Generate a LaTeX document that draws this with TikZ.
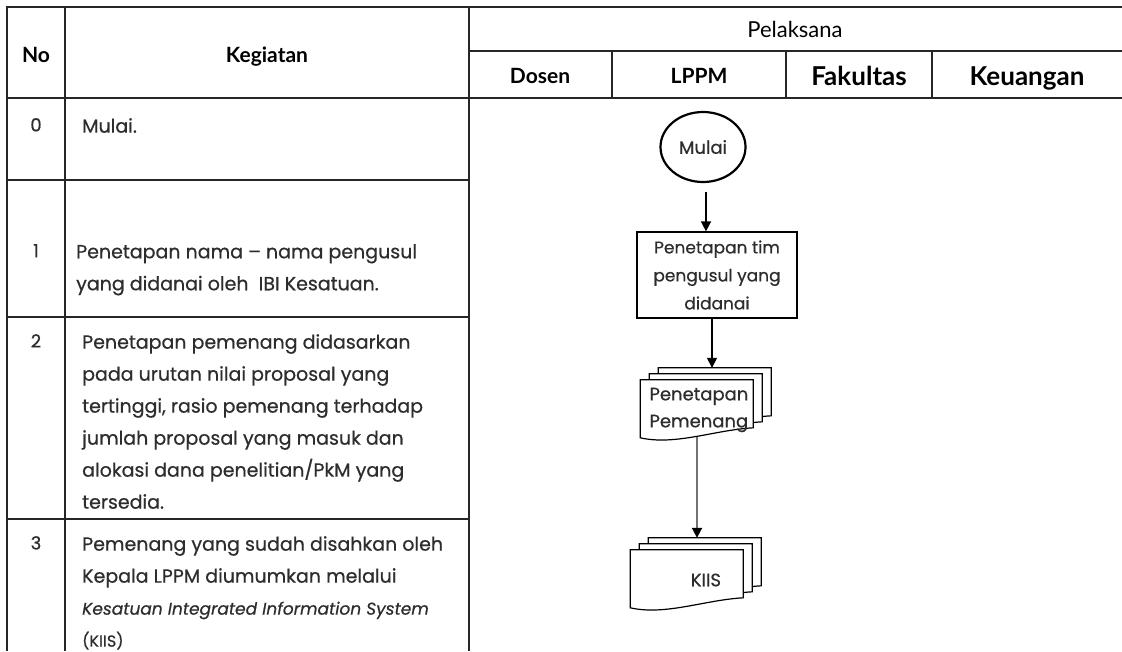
\documentclass[tikz,border=0pt]{standalone}
\usepackage{fontspec}
\setmainfont[FakeBold=0.6]{Poppins}
\newfontfamily\headfont{Lato}
\usepackage{xcolor}
\definecolor{inkgray}{RGB}{45,45,45}
\usetikzlibrary{arrows.meta, positioning, shapes.geometric, calc, backgrounds}

\begin{document}
\begin{tikzpicture}[x=1pt, y=-1pt,
  grid/.style={line width=1.3pt, black!85},
  head/.style={font=\headfont\bfseries\fontsize{21}{24}\selectfont, inner sep=0pt, anchor=base},
  bighead/.style={font=\headfont\bfseries\fontsize{26}{30}\selectfont, inner sep=0pt, anchor=base},
  num/.style={font=\fontsize{18}{32}\selectfont, text=inkgray, inner sep=0pt, anchor=north},
  desc/.style={font=\fontsize{19}{32}\selectfont, text=inkgray, inner sep=0pt, anchor=north west, align=left},
  startnode/.style={ellipse, draw, line width=2.2pt, minimum width=85pt, minimum height=70pt, font=\fontsize{18}{20}\selectfont, text=inkgray},
  procbox/.style={rectangle, draw, line width=1.2pt, minimum width=160pt, minimum height=86pt, align=center, font=\fontsize{17}{28}\selectfont, text=inkgray},
  docbox/.style={minimum width=113pt, minimum height=60pt, inner xsep=9pt, inner ysep=0pt, font=\fontsize{18}{27}\selectfont, text=inkgray},
  sheet/.style={draw, line width=1.2pt, fill=white},
  arr/.style={-{Triangle[width=10pt,length=10pt,black]}, line width=1.5pt}
]
  \useasboundingbox (0,0) rectangle (1122,651);

  % table frame
  \draw[grid] (7,651) -- (7,7) -- (1122,7);
  \draw[grid] (7,98) -- (1122,98);
  \draw[grid] (65,7) -- (65,651);
  \draw[grid] (469,7) -- (469,651);
  \draw[grid] (469,51) -- (1122,51);
  \foreach \x in {612,786,932} \draw[grid] (\x,51) -- (\x,98);
  \foreach \y in {180,317,519} \draw[grid] (7,\y) -- (469,\y);

  % header
  \node[head] (no) at (36,62) {No};
  \node[head] (kegiatan) at (267,62) {Kegiatan};
  \node[head, font=\headfont\fontsize{22}{24}\selectfont] (pelaksana) at (795,37) {Pelaksana};
  \node[head] (dosen) at (540,83) {Dosen};
  \node[head] (lppm) at (699,83) {LPPM};
  \node[bighead] (fakultas) at (859,85) {Fakultas};
  \node[bighead] (keuangan) at (1027,85) {Keuangan};

  % kegiatan rows
  \node[num] (n0) at (36,118) {0};
  \node[desc] (k0) at (82,118) {Mulai.};
  \node[num] (n1) at (36,244) {1};
  \node[desc] (k1) at (76,244) {Penetapan nama -- nama pengusul\\yang didanai oleh\ \ IBI Kesatuan.};
  \node[num] (n2) at (36,334) {2};
  \node[desc] (k2) at (82,334) {Penetapan pemenang didasarkan\\pada urutan nilai proposal yang\\tertinggi, rasio pemenang terhadap\\jumlah proposal yang masuk dan\\alokasi dana penelitian/PkM yang\\tersedia.};
  \node[num] (n3) at (36,536) {3};
  \node[desc] (k3) at (82,536) {Pemenang yang sudah disahkan oleh\\Kepala LPPM diumumkan melalui\\{\itshape\fontsize{17}{32}\selectfont Kesatuan Integrated Information System}\\{\fontsize{16}{32}\selectfont (KIIS)}};

  % flow
  \node[startnode] (mulai) at (703,147) {Mulai};
  \node[procbox] (tim) at (717,275) {Penetapan tim\\pengusul yang\\didanai};
  \node[docbox, align=left, text width=95pt] (pemenang) at (697,410) {Penetapan\\Pemenang};
  \node[docbox, align=right, text width=68pt] (kiis) at (687,580) {KIIS};

  \begin{scope}[on background layer]
    \foreach \d in {pemenang,kiis}
      \foreach \k in {2,1,0}
        \draw[sheet, shift={($(\d.north west)+(9*\k,-6*\k)$)}]
          (0,58) -- (0,0) -- (113,0) -- (113,48) .. controls (75,50) and (35,66) .. cycle;
  \end{scope}

  \draw[arr, shorten <=9pt] ([xshift=3pt]mulai.south) -- ([xshift=3pt]mulai.south |- tim.north);
  \draw[arr, shorten >=12pt] ([xshift=-5pt]tim.south) -- ([xshift=-5pt]tim.south |- pemenang.north);
  \draw[arr, draw=black!55, line width=2pt, shorten <=-3pt, shorten >=12pt] (pemenang.south) -- (pemenang.south |- kiis.north);
\end{tikzpicture}
\end{document}
